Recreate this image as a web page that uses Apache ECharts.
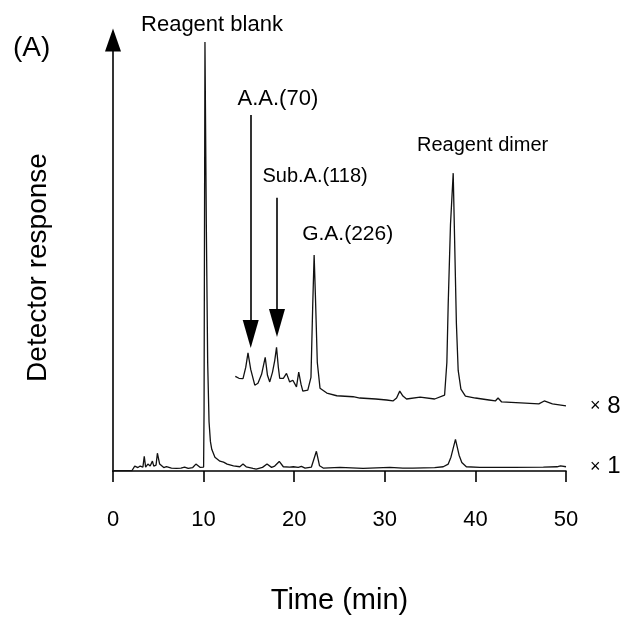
<!DOCTYPE html>
<html>
<head>
<meta charset="utf-8">
<script src="https://cdn.jsdelivr.net/npm/echarts@6/dist/echarts.min.js"></script>
<style>
  html, body { margin: 0; padding: 0; background: #fff; }
  #chart { width: 632px; height: 620px; }
</style>
</head>
<body>
<div id="chart"></div>
<script>
// x軸刻度
var timeTicks = [0, 10, 20, 30, 40, 50];

// 下方的原始訊號 (x1)，[時間(min), 響應]
var traceX1 = [
  [0, 0.3], [2.1, 0.5], [2.4, 5], [2.6, 7], [2.75, 3.5], [3.0, 5], [3.3, 4], [3.45, 15], [3.6, 4],
  [3.85, 7], [4.1, 5], [4.35, 10], [4.5, 5], [4.75, 6], [4.9, 18], [5.15, 7], [5.3, 8], [5.6, 3.5],
  [5.9, 4.5], [6.45, 3], [7.0, 2.7], [7.5, 3], [7.9, 4], [8.3, 2.7], [8.8, 3.5], [9.15, 7], [9.6, 3.7],
  [10.0, 4], [10.05, 60], [10.15, 435], [10.3, 250], [10.45, 110], [10.6, 50], [10.75, 30], [10.9, 22],
  [11.25, 14], [11.8, 10], [12.2, 9], [12.6, 7], [13.3, 5.3], [14.0, 4.3], [14.35, 7], [14.7, 4.3],
  [15.45, 2.7], [15.8, 2], [16.5, 3.7], [17.0, 7], [17.5, 3.7], [17.85, 5], [18.35, 9.7], [18.8, 4.3],
  [19.5, 4], [19.9, 4.3], [20.45, 3.7], [20.8, 4.7], [21.2, 3], [21.9, 4], [22.1, 6], [22.45, 20],
  [22.8, 5.3], [23.2, 3], [25.05, 3.7], [27.6, 2.7], [30.55, 3.7], [32.0, 3], [33.1, 3], [35.5, 3.5],
  [36.45, 4.3], [37.0, 7], [37.3, 14], [37.8, 32], [38.2, 16], [38.5, 8.7], [39.0, 4.3], [40.5, 3.7],
  [44.2, 3.7], [47.5, 4], [49.0, 4.3], [49.4, 5.3], [50, 4.3]
];

// 上方放大8倍的訊號 (x8)
var traceX8 = [
  [13.5, 96], [13.9, 94], [14.35, 93.7], [14.65, 105], [14.9, 119.7], [15.2, 103], [15.65, 87], [16.0, 89],
  [16.4, 98], [16.8, 115.3], [17.05, 97], [17.3, 90.3], [17.6, 100], [17.85, 112], [18.05, 125.3],
  [18.25, 105], [18.4, 94], [18.8, 94], [19.15, 99], [19.5, 90.3], [19.85, 92], [20.25, 85.3],
  [20.5, 100.3], [20.75, 88], [20.95, 81], [21.5, 82], [21.85, 95], [22.05, 170], [22.2, 219],
  [22.35, 175], [22.55, 110], [22.85, 84], [23.6, 79], [24.7, 76.3], [26.5, 75.3], [27.25, 74], [29, 73],
  [30.2, 72], [30.9, 71], [31.3, 74], [31.65, 81], [32.0, 76], [32.4, 73], [33.9, 75], [35.5, 73],
  [36.6, 77], [36.85, 110], [37.0, 170], [37.25, 250], [37.55, 302], [37.75, 215], [37.9, 150],
  [38.1, 102], [38.4, 83], [38.9, 76], [40.0, 74], [41.5, 72], [42.2, 71], [42.5, 74], [42.9, 70],
  [45, 69], [47, 68], [47.6, 71], [48.5, 68], [50, 66]
];

// 峰的標註文字
var peakNames = ['Reagent blank', 'A.A.(70)', 'Sub.A.(118)', 'G.A.(226)', 'Reagent dimer'];
// 箭頭指向的峰 (A.A. 與 Sub.A.)
var arrowTimes = [15.2, 18.1];

var font = "'Liberation Sans', Arial, Helvetica, sans-serif";
var chart = echarts.init(document.getElementById('chart'));

var option = {
  animation: false,
  backgroundColor: '#fff',
  title: {
    text: '(A)',
    left: 8,
    top: 29,
    textStyle: { fontSize: 28, fontWeight: 'normal', color: '#000', fontFamily: font },
  },
  grid: { left: 113, right: 66, top: 40, bottom: 143 },
  xAxis: {
    type: 'value',
    min: timeTicks[0],
    max: timeTicks[timeTicks.length - 1],
    interval: 10,
    offset: 17,
    splitLine: { show: false },
    axisLine: { lineStyle: { color: '#000', width: 1.6 } },
    axisTick: { show: true, length: 11, lineStyle: { color: '#000', width: 1.6 } },
    axisLabel: { fontSize: 22, color: '#000', margin: 21, fontFamily: font },
    name: 'Time (min)',
    nameLocation: 'middle',
    nameGap: 98,
    nameTextStyle: { fontSize: 29, color: '#000', fontFamily: font },
  },
  yAxis: {
    type: 'value',
    min: 0,
    max: 437,
    offset: 13,
    splitLine: { show: false },
    axisTick: { show: false },
    axisLabel: { show: false },
    axisLine: {
      show: true,
      symbol: ['none', 'triangle'],
      symbolSize: [16, 23],
      lineStyle: { color: '#000', width: 1.6 },
    },
    name: 'Detector response',
    nameLocation: 'middle',
    nameGap: 48,
    nameTextStyle: { fontSize: 28, color: '#000', fontFamily: font, padding: [0, 24, 0, 0] },
  },
  series: [
    {
      name: 'x1',
      type: 'line',
      data: traceX1,
      showSymbol: false,
      lineStyle: { color: '#111', width: 1.3 },
      endLabel: {
        show: true,
        distance: 24,
        formatter: '{x|×}  {n|1}',
        rich: {
          x: { fontSize: 18, color: '#000', fontFamily: font },
          n: { fontSize: 24, color: '#000', fontFamily: font },
        },
      },
      markPoint: {
        symbol: 'circle',
        symbolSize: 1,
        itemStyle: { color: 'rgba(0,0,0,0)' },
        label: { show: true, position: 'inside', color: '#000', fontSize: 22, fontFamily: font, formatter: '{b}' },
        data: [{ name: peakNames[0], coord: [10.15, 435], label: { offset: [7, -17] } }],
      },
    },
    {
      name: 'x8',
      type: 'line',
      data: traceX8,
      showSymbol: false,
      lineStyle: { color: '#111', width: 1.3 },
      endLabel: {
        show: true,
        distance: 24,
        formatter: '{x|×}  {n|8}',
        rich: {
          x: { fontSize: 18, color: '#000', fontFamily: font },
          n: { fontSize: 24, color: '#000', fontFamily: font },
        },
      },
      markPoint: {
        symbol: 'circle',
        symbolSize: 1,
        itemStyle: { color: 'rgba(0,0,0,0)' },
        label: { show: true, position: 'inside', color: '#000', fontSize: 21, fontFamily: font, formatter: '{b}' },
        data: [
          { name: peakNames[1], coord: [18.2, 377], label: { fontSize: 22 } },
          { name: peakNames[2], coord: [22.3, 299], label: { fontSize: 20 } },
          { name: peakNames[3], coord: [25.9, 240] },
          { name: peakNames[4], coord: [40.8, 330], label: { fontSize: 20 } },
        ],
      },
      markLine: {
        silent: true,
        symbol: ['none', 'triangle'],
        symbolSize: [16, 28],
        label: { show: false },
        lineStyle: { color: '#000', width: 1.6, type: 'solid' },
        data: [
          [{ coord: [arrowTimes[0], 361] }, { coord: [arrowTimes[0], 139] }],
          [{ coord: [arrowTimes[1], 277] }, { coord: [arrowTimes[1], 150] }],
        ],
      },
    },
  ],
};

chart.setOption(option);
</script>
</body>
</html>
